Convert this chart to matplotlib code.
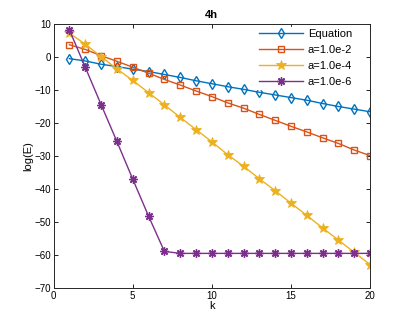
import matplotlib
matplotlib.use("Agg")
import matplotlib.pyplot as plt

plt.rcParams['font.family'] = ['Liberation Sans', 'DejaVu Sans']

k = list(range(1, 21))
equation = [-0.5, -1.2, -2.2, -2.9, -3.7, -4.4, -5.3, -6.2, -7.2, -8.1,
            -9.0, -9.8, -10.7, -11.5, -12.3, -13.1, -14.1, -15.0, -15.8, -16.6]
a_1e2 = [3.7, 2.3, 0.4, -1.3, -3.1, -4.9, -6.8, -8.5, -10.3, -12.0,
         -13.9, -15.5, -17.4, -19.2, -21.0, -22.7, -24.5, -26.2, -28.2, -29.9]
a_1e4 = [7.2, 3.9, 0.1, -3.6, -7.1, -10.8, -14.5, -18.3, -22.0, -25.7,
         -29.6, -33.1, -36.9, -40.5, -44.3, -48.0, -51.8, -55.5, -59.2, -62.9]
a_1e6 = [8.2, -3.1, -14.4, -25.6, -37.0, -48.2, -58.9, -59.5, -59.5, -59.5,
         -59.5, -59.5, -59.5, -59.5, -59.5, -59.5, -59.5, -59.5, -59.5, -59.5]
labels = ['Equation', 'a=1.0e-2', 'a=1.0e-4', 'a=1.0e-6']
xticks = [0, 5, 10, 15, 20]
yticks = [-70, -60, -50, -40, -30, -20, -10, 0, 10]

fig = plt.figure(figsize=(4.09, 3.24), dpi=100)
ax = fig.add_axes([0.131, 0.111, 0.774, 0.815])

ax.plot(k, equation, color='#0072BD', lw=1, marker='d', ms=5, mfc='none', mew=1, label=labels[0])
ax.plot(k, a_1e2, color='#D95319', lw=1, marker='s', ms=4.5, mfc='none', mew=1, label=labels[1])
ax.plot(k, a_1e4, color='#EDB120', lw=1, marker='*', ms=7.5, mew=0.6, label=labels[2])
ax.plot(k, a_1e6, color='#7E2F8E', lw=1, marker=(8, 2, 0), ms=6, mew=1, label=labels[3])

ax.set_xlim(0, 20)
ax.set_ylim(-70, 10)
ax.set_xticks(xticks)
ax.set_yticks(yticks)
ax.tick_params(direction='in', top=True, right=True, labelsize=7, length=3, width=0.6, pad=2)
for s in ax.spines.values():
    s.set_linewidth(0.7)
    s.set_color('#262626')
ax.set_xlabel('k', fontsize=8, labelpad=0)
ax.set_ylabel('log(E)', fontsize=8, labelpad=1)
ax.set_title('4h', fontsize=8, fontweight='bold', pad=4)

leg = ax.legend(loc='upper right', bbox_to_anchor=(0.95, 0.99), fontsize=8,
                frameon=True, edgecolor='white', facecolor='white', framealpha=1,
                fancybox=False, handlelength=3.9, borderaxespad=0, borderpad=0.2,
                labelspacing=0.55, handletextpad=0.45)

fig.savefig('out.png', dpi=100)
